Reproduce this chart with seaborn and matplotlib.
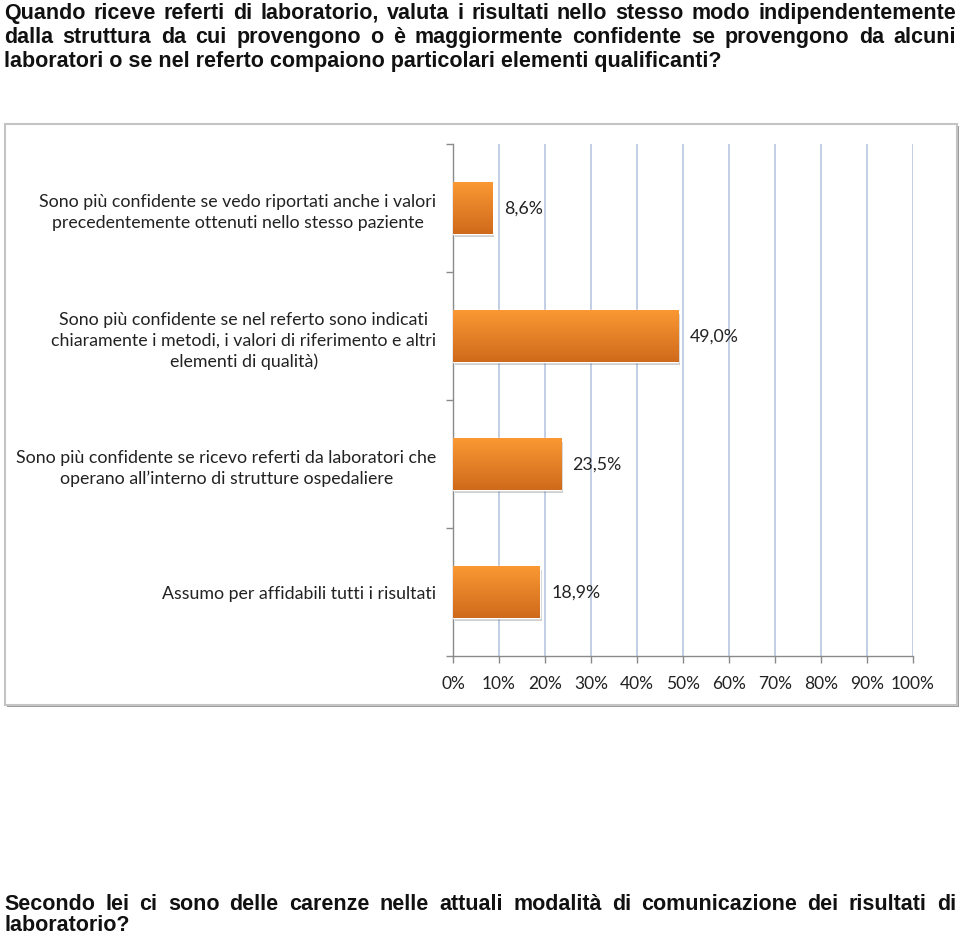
import numpy as np
import pandas as pd
import matplotlib
matplotlib.use("Agg")
import matplotlib.pyplot as plt
import seaborn as sns
from matplotlib.patches import Rectangle

# ---------------- data ----------------
title_lines = [
    "Quando riceve referti di laboratorio, valuta i risultati nello stesso modo indipendentemente",
    "dalla struttura da cui provengono o è maggiormente confidente se provengono da alcuni",
    "laboratori o se nel referto compaiono particolari elementi qualificanti?",
]
footer_lines = [
    "Secondo lei ci sono delle carenze nelle attuali modalità di comunicazione dei risultati di",
    "laboratorio?",
]
categories = [
    "Sono più confidente se vedo riportati anche i valori\nprecedentemente ottenuti nello stesso paziente",
    "Sono più confidente se nel referto sono indicati\nchiaramente i metodi, i valori di riferimento e altri\nelementi di qualità)",
    "Sono più confidente se ricevo referti da laboratori che\noperano all’interno di strutture ospedaliere",
    "Assumo per affidabili tutti i risultati",
]
values = [8.6, 49.0, 23.5, 18.9]
value_labels = ["8,6%", "49,0%", "23,5%", "18,9%"]
x_ticks = [0, 10, 20, 30, 40, 50, 60, 70, 80, 90, 100]
x_tick_labels = ["0%", "10%", "20%", "30%", "40%", "50%", "60%", "70%", "80%", "90%", "100%"]

# ---------------- style ----------------
sns.set_theme(style="white")
plt.rcParams["font.family"] = ["Lato", "DejaVu Sans"]

TXT = "#222222"
W, H = 960, 937
fig = plt.figure(figsize=(W / 100, H / 100), dpi=100)
fig.patch.set_facecolor("white")

# chart frame with shadow
fig.patches.append(Rectangle(((5 + 2) / W, 1 - (706 + 2) / H), 952 / W, 581 / H,
                             transform=fig.transFigure, facecolor="#9c9c9c",
                             edgecolor="none", zorder=-3))
fig.patches.append(Rectangle((5 / W, 1 - 706 / H), 952 / W, 581 / H,
                             transform=fig.transFigure, facecolor="white",
                             edgecolor="#c4c4c4", lw=1.5, zorder=-2))

ax = fig.add_axes([453 / W, 1 - 657 / H, 460 / W, 512 / H])
ax.set_facecolor("none")

df = pd.DataFrame({"cat": categories, "val": values})
sns.barplot(data=df, x="val", y="cat", orient="h", color="#f08a2c",
            saturation=1, width=0.4, ax=ax, zorder=3)

# gradient fill + shadow for bars
grad = np.linspace(0, 1, 64)[:, None]
top = np.array([0xfa, 0x98, 0x33]) / 255
bot = np.array([0xcf, 0x6a, 0x1c]) / 255
img = top[None, None, :] * (1 - grad[..., None]) + bot[None, None, :] * grad[..., None]
img = np.repeat(img, 2, axis=1)
for p in list(ax.patches):
    x0, y0, w, h = p.get_x(), p.get_y(), p.get_width(), p.get_height()
    sh = Rectangle((x0 + 0.35, y0 + 0.03), w, h, facecolor="#7a7a7a", alpha=0.35,
                   edgecolor="none", zorder=2)
    ax.add_patch(sh)
    im = ax.imshow(img, extent=[x0, x0 + w, y0 + h, y0], aspect="auto",
                   zorder=4, interpolation="bilinear")
    im.set_clip_path(p)

ax.set_xlim(0, 100)
ax.set_ylim(3.5, -0.5)

ax.bar_label(ax.containers[0], labels=value_labels, padding=8,
             fontsize=12.8, color=TXT, family=["Lato", "DejaVu Sans"])

# grid
ax.set_axisbelow(True)
ax.xaxis.grid(True, color="#b8c6df", lw=1.2)
ax.yaxis.grid(False)

# spines
for s in ["top", "right"]:
    ax.spines[s].set_visible(False)
for s in ["left", "bottom"]:
    ax.spines[s].set_visible(True)
    ax.spines[s].set_color("#8a8a8a")
    ax.spines[s].set_linewidth(1.0)

ax.set_xticks(x_ticks)
ax.set_xticklabels(x_tick_labels)
ax.tick_params(axis="x", bottom=True, direction="out", length=5, width=1,
               color="#8a8a8a", pad=9, labelsize=12.5, labelcolor=TXT)
ax.set_yticks(range(len(categories)))
ax.set_yticklabels(categories)
ax.set_yticks([-0.5, 0.5, 1.5, 2.5, 3.5], minor=True)
ax.tick_params(axis="y", which="major", left=False, length=0, pad=12,
               labelsize=12.8, labelcolor=TXT)
ax.tick_params(axis="y", which="minor", left=True, direction="out", length=5,
               width=1, color="#8a8a8a")
for lbl in ax.get_yticklabels():
    lbl.set_multialignment("center")
    lbl.set_linespacing(1.35)
ax.set_xlabel("")
ax.set_ylabel("")

# ---------------- justified texts ----------------
renderer = fig.canvas.get_renderer()


def place_line(text, y_px, justify, x0=4, x1=956, **kw):
    if not justify:
        fig.text(x0 / W, 1 - y_px / H, text, ha="left", va="baseline", **kw)
        return
    words = text.split(" ")
    arts = [fig.text(0, 1 - y_px / H, wd, ha="left", va="baseline", **kw) for wd in words]
    widths = [a.get_window_extent(renderer).width for a in arts]
    gap = (x1 - x0 - sum(widths)) / (len(words) - 1)
    x = x0
    for a, wdt in zip(arts, widths):
        a.set_x(x / W)
        x += wdt + gap


head_kw = dict(family=["Liberation Sans", "DejaVu Sans"], fontsize=15.5,
               fontweight="bold", color="#111111")
place_line(title_lines[0], 19, True, **head_kw)
place_line(title_lines[1], 43, True, **head_kw)
place_line(title_lines[2], 67, False, **head_kw)

place_line(footer_lines[0], 910, True, **head_kw)
place_line(footer_lines[1], 931, False, **head_kw)

fig.savefig("out.png", dpi=100, facecolor="white")
